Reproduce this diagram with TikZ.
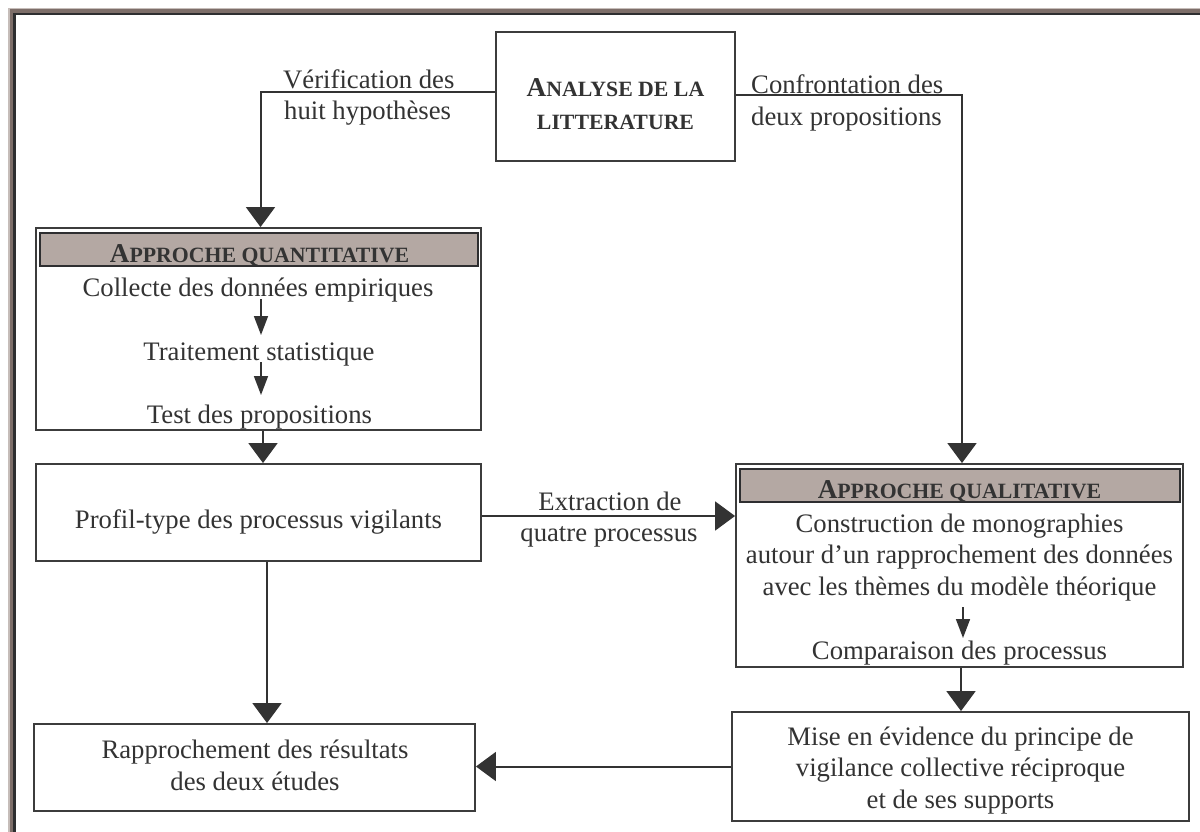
\documentclass[tikz,border=0pt]{standalone}
\usepackage{fontspec}
\setmainfont{Liberation Serif}
\usetikzlibrary{arrows.meta,calc}
\definecolor{ink}{HTML}{333333}
\definecolor{edge}{HTML}{3C3C3C}
\definecolor{hdr}{HTML}{B4A8A3}
\definecolor{frL}{HTML}{C6BDB9}
\definecolor{frB}{HTML}{7D6E69}
\definecolor{frD}{HTML}{2E2E30}
\newcommand\bodyfont{\fontsize{26.7}{31.5}\selectfont}
\newcommand\capA[1]{{\fontsize{27.2}{31.5}\selectfont #1}}
\newcommand\capS[1]{{\fontsize{21.8}{31.5}\selectfont #1}}
\begin{document}
\begin{tikzpicture}[x=1pt,y=-1pt,
  box/.style={draw=edge,line width=1.9pt,inner sep=0pt,rectangle},
  hdrbox/.style={draw=frD,fill=hdr,line width=2.6pt,inner sep=0pt,rectangle},
  txt/.style={inner sep=0pt,anchor=base,text=ink,font=\bodyfont},
  txtl/.style={txt,anchor=base west},
  hdrtxt/.style={txt,font=\bodyfont\bfseries},
  conn/.style={draw=ink,line width=2pt},
  bigtip/.style={-{Triangle[length=20pt,width=29pt]}},
  smalltip/.style={line width=1.6pt,-{Triangle[length=19pt,width=14pt]}},
]
\useasboundingbox (0,0) rectangle (1200,832);
% frame (only top and left sides visible)
\fill[frL] (8,8) rectangle (1200,832);
\fill[frB] (9.5,9.5) rectangle (1200,832);
\fill[frD] (13,13) rectangle (1200,832);
\fill[white] (16,15.5) rectangle (1200,832);

% boxes
\node[box,minimum width=239pt,minimum height=129pt] (ana) at (615.5,96.5) {};
\node[box,minimum width=445pt,minimum height=202pt] (quant) at (258.5,329) {};
\node[hdrbox,minimum width=438pt,minimum height=33pt] (qhdr) at (259,249.5) {};
\node[box,minimum width=445pt,minimum height=97pt] (profil) at (258.5,512.5) {};
\node[box,minimum width=447pt,minimum height=203pt] (qual) at (959.5,565.5) {};
\node[hdrbox,minimum width=440pt,minimum height=33pt] (lhdr) at (960,485.5) {};
\node[box,minimum width=457pt,minimum height=109pt] (mise) at (960.5,766.5) {};
\node[box,minimum width=441pt,minimum height=87pt] (rapp) at (254.5,767.5) {};

% texts
\node[hdrtxt] (ana1) at (615.5,97) {\capA{A}\capS{NALYSE DE LA}};
\node[hdrtxt] (ana2) at (615.5,130) {\capS{LITTERATURE}};
\node[txtl] (ver1) at (283,89) {Vérification des};
\node[txtl] (ver2) at (284,120) {huit hypothèses};
\node[txtl] (con1) at (751,94) {Confrontation des};
\node[txtl] (con2) at (751,126) {deux propositions};
\node[hdrtxt] (qh) at (259.5,262) {\capA{A}\capS{PPROCHE QUANTITATIVE}};
\node[txt] (q1) at (258,296) {Collecte des données empiriques};
\node[txt] (q2) at (259,360) {Traitement statistique};
\node[txt] (q3) at (259.5,423) {Test des propositions};
\node[txt] (p1) at (258.5,528) {Profil-type des processus vigilants};
\node[txt] (ex1) at (610,510) {Extraction de};
\node[txt] (ex2) at (609,541) {quatre processus};
\node[hdrtxt] (lh) at (959.5,498) {\capA{A}\capS{PPROCHE QUALITATIVE}};
\node[txt] (l1) at (959.5,532) {Construction de monographies};
\node[txt] (l2) at (959.5,563) {autour d’un rapprochement des données};
\node[txt] (l3) at (959.5,595) {avec les thèmes du modèle théorique};
\node[txt] (l4) at (959.5,659) {Comparaison des processus};
\node[txt] (m1) at (960.5,745) {Mise en évidence du principe de};
\node[txt] (m2) at (960.5,776) {vigilance collective réciproque};
\node[txt] (m3) at (960.5,808) {et de ses supports};
\node[txt] (r1) at (255,758) {Rapprochement des résultats};
\node[txt] (r2) at (255,790) {des deux études};

% inner small arrows
\coordinate (qa1s) at (261,299);
\coordinate (qa1e) at (261,335);
\coordinate (qa2s) at (261,362);
\coordinate (qa2e) at (261,395);
\coordinate (la1s) at (963,607);
\coordinate (la1e) at (963,638);
\draw[conn,smalltip] (qa1s) -- (qa1e);
\draw[conn,smalltip] (qa2s) -- (qa2e);
\draw[conn,smalltip] (la1s) -- (la1e);

% connectors
\draw[conn,bigtip] ([yshift=4.5pt]ana.west) -| ([xshift=2pt]quant.north);
\draw[conn,bigtip] ([yshift=1.5pt]ana.east) -| ([xshift=2.5pt]qual.north);
\draw[conn,bigtip] ([xshift=4.5pt]quant.south) -- ([xshift=4.5pt]profil.north);
\draw[conn,bigtip] ([xshift=8.5pt]profil.south) -- ([xshift=8.5pt]profil.south |- rapp.north);
\draw[conn,bigtip] ([yshift=-3.5pt]profil.east) -- ([yshift=-3.5pt]profil.east -| qual.west);
\draw[conn,bigtip] ([xshift=1.5pt]qual.south) -- ([xshift=1.5pt]qual.south |- mise.north);
\draw[conn,bigtip] (mise.west) -- (mise.west -| rapp.east);
\end{tikzpicture}
\end{document}
